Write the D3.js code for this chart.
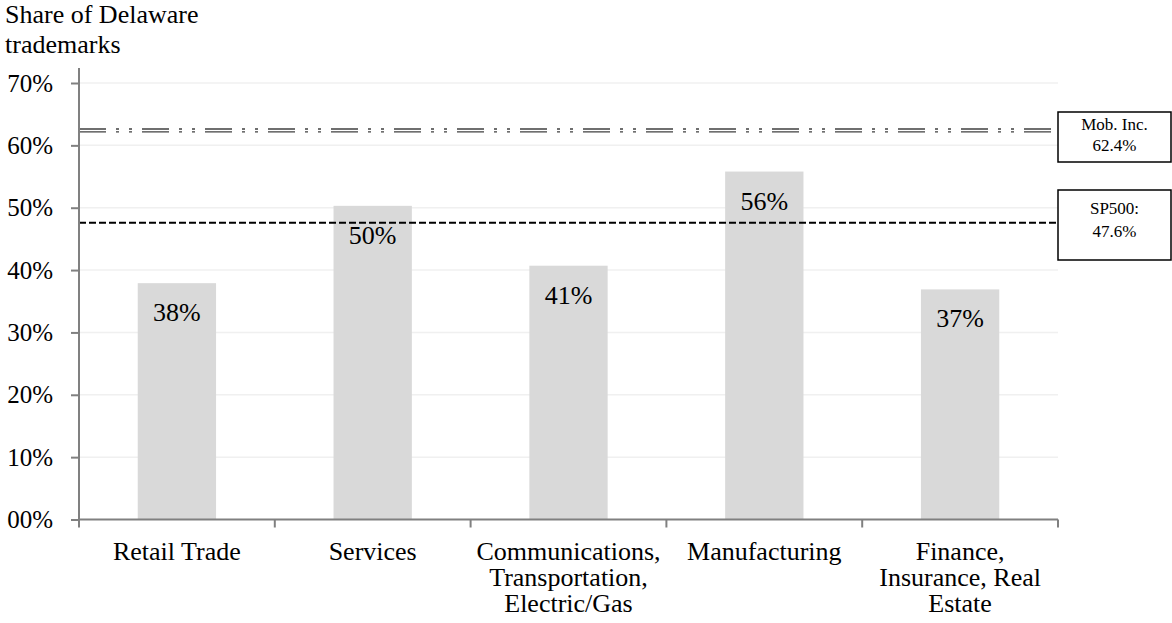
<!DOCTYPE html>
<html>
<head>
<meta charset="utf-8">
<script src="https://cdn.jsdelivr.net/npm/d3@7"></script>
<style>
  html, body { margin: 0; padding: 0; background: #fff; }
  svg { display: block; }
  svg text { font-family: "Liberation Serif", "Times New Roman", serif; fill: #000; }
</style>
</head>
<body>
<svg id="chart" width="1172" height="623"></svg>
<script>
const categories = [
  ["Retail Trade"],
  ["Services"],
  ["Communications,", "Transportation,", "Electric/Gas"],
  ["Manufacturing"],
  ["Finance,", "Insurance, Real", "Estate"]
];
const shares = [37.9, 50.3, 40.7, 55.8, 36.9];
const shareLabels = ["38%", "50%", "41%", "56%", "37%"];
const yTicks = [0, 10, 20, 30, 40, 50, 60, 70];
const yTickLabels = ["00%", "10%", "20%", "30%", "40%", "50%", "60%", "70%"];
const benchmarkNames = ["Mob. Inc.", "SP500:"];
const benchmarkValues = [62.4, 47.6];
const benchmarkLabels = ["62.4%", "47.6%"];
const yTitle = ["Share of Delaware", "trademarks"];

(function () {
const FONT = "Liberation Serif, Times New Roman, serif";
const svg = d3.select("#chart");
const pLeft = 79, pRight = 1058, pTop = 83, pBottom = 519.5;

const x = d3.scaleBand()
  .domain(d3.range(categories.length))
  .range([pLeft, pRight])
  .paddingInner(0.6)
  .paddingOuter(0.3);
const y = d3.scaleLinear().domain([0, 70]).range([pBottom, pTop]);

// gridlines
svg.append("g").selectAll("line").data(yTicks.slice(1)).join("line")
  .attr("x1", pLeft).attr("x2", pRight)
  .attr("y1", d => y(d)).attr("y2", d => y(d))
  .attr("stroke", "#f0f0f0").attr("stroke-width", 1.5);

// bars
svg.append("g").selectAll("rect").data(shares).join("rect")
  .attr("x", (d, i) => x(i))
  .attr("width", x.bandwidth())
  .attr("y", d => y(d))
  .attr("height", d => y(0) - y(d))
  .attr("fill", "#d9d9d9");

// bar labels
svg.append("g").selectAll("text").data(shares).join("text")
  .attr("x", (d, i) => x(i) + x.bandwidth() / 2)
  .attr("y", d => y(d) + 38)
  .attr("text-anchor", "middle")
  .attr("font-family", FONT)
  .attr("font-size", 26)
  .text((d, i) => shareLabels[i]);

// Mob. Inc. double dash-dot-dot line
const mobY = y(benchmarkValues[0]);
[-1.4, 1.4].forEach(off => {
  svg.append("line")
    .attr("x1", pLeft).attr("x2", pRight - 5)
    .attr("y1", mobY + off).attr("y2", mobY + off)
    .attr("stroke", "#404040").attr("stroke-width", 1.3)
    .attr("stroke-dasharray", "27,10,3,10,3,10");
});

// SP500 dashed line
const spY = y(benchmarkValues[1]);
svg.append("line")
  .attr("x1", pLeft).attr("x2", pRight)
  .attr("y1", spY).attr("y2", spY)
  .attr("stroke", "#000").attr("stroke-width", 2)
  .attr("stroke-dasharray", "7,3");

// Y axis
const yAxis = d3.axisLeft(y).tickValues(yTicks)
  .tickFormat((d, i) => yTickLabels[i]).tickSize(8).tickPadding(18);
const gy = svg.append("g").attr("transform", `translate(${pLeft},0)`).call(yAxis);
gy.select(".domain").attr("d", `M0,68V${pBottom}`);
gy.selectAll("path, line").attr("stroke", "#808080").attr("stroke-width", 2);
gy.selectAll("text").attr("font-size", 25).attr("font-family", FONT);

// X axis with ticks at category boundaries
const bounds = d3.range(categories.length + 1).map(i => pLeft + i * x.step());
const gx = svg.append("g");
gx.append("line").attr("x1", pLeft - 1).attr("x2", pRight).attr("y1", pBottom).attr("y2", pBottom)
  .attr("stroke", "#808080").attr("stroke-width", 2);
gx.selectAll("line.tk").data(bounds).join("line").attr("class", "tk")
  .attr("x1", d => d).attr("x2", d => d).attr("y1", pBottom).attr("y2", pBottom + 8)
  .attr("stroke", "#808080").attr("stroke-width", 2);
gx.selectAll("text.cat").data(categories).join("text").attr("class", "cat")
  .attr("text-anchor", "middle")
  .attr("font-family", FONT)
  .attr("font-size", 26)
  .each(function(lines, i) {
    const t = d3.select(this);
    lines.forEach((ln, j) => {
      t.append("tspan")
        .attr("x", x(i) + x.bandwidth() / 2)
        .attr("y", 560 + j * 26)
        .text(ln);
    });
  });

// Y title
svg.append("g").selectAll("text").data(yTitle).join("text")
  .attr("x", 5).attr("y", (d, i) => 23 + i * 30)
  .attr("font-family", FONT)
  .attr("font-size", 26)
  .text(d => d);

// benchmark label boxes
const boxes = [
  { x: 1058, y: 112, w: 113, h: 50, ty: [130, 151] },
  { x: 1058, y: 190, w: 113, h: 70, ty: [214, 237] }
];
boxes.forEach((b, i) => {
  svg.append("rect").attr("x", b.x).attr("y", b.y).attr("width", b.w).attr("height", b.h)
    .attr("fill", "#fff").attr("stroke", "#000").attr("stroke-width", 1.5);
  svg.append("text").attr("x", b.x + b.w / 2).attr("y", b.ty[0])
    .attr("text-anchor", "middle").attr("font-family", FONT).attr("font-size", 17)
    .text(benchmarkNames[i]);
  svg.append("text").attr("x", b.x + b.w / 2).attr("y", b.ty[1])
    .attr("text-anchor", "middle").attr("font-family", FONT).attr("font-size", 17)
    .text(benchmarkLabels[i]);
});
})();
</script>
</body>
</html>
